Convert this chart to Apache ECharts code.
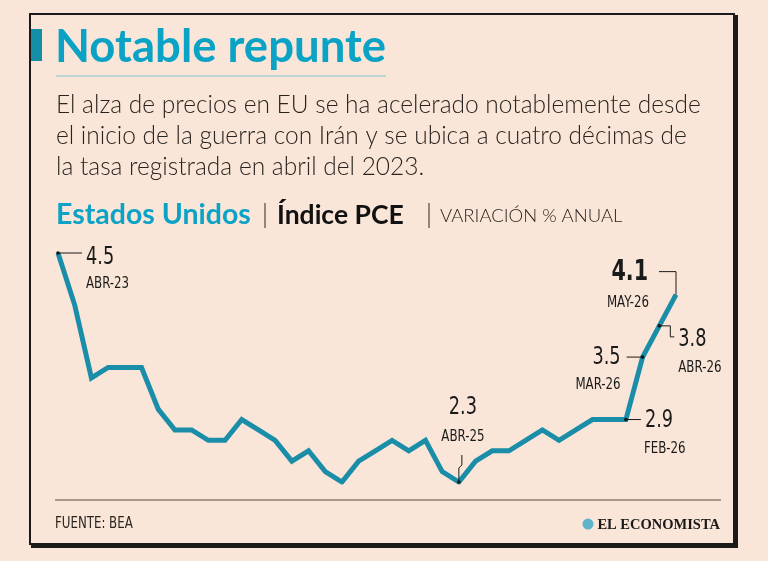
<!DOCTYPE html>
<html>
<head>
<meta charset="utf-8">
<script src="https://cdn.jsdelivr.net/npm/echarts@6/dist/echarts.min.js"></script>
<style>
  html, body { margin: 0; padding: 0; background: #fae6d8; }
  #chart { width: 768px; height: 561px; }
</style>
</head>
<body>
<div id="chart"></div>
<script>
// datos: PCE, variación % anual, abr-23 a may-26
const months = [
  "ABR-23","MAY-23","JUN-23","JUL-23","AGO-23","SEP-23","OCT-23","NOV-23","DIC-23",
  "ENE-24","FEB-24","MAR-24","ABR-24","MAY-24","JUN-24","JUL-24","AGO-24","SEP-24","OCT-24","NOV-24","DIC-24",
  "ENE-25","FEB-25","MAR-25","ABR-25","MAY-25","JUN-25","JUL-25","AGO-25","SEP-25","OCT-25","NOV-25","DIC-25",
  "ENE-26","FEB-26","MAR-26","ABR-26","MAY-26"
];
const pce = [
  4.5, 4.0, 3.3, 3.4, 3.4, 3.4, 3.0, 2.8, 2.8,
  2.7, 2.7, 2.9, 2.8, 2.7, 2.5, 2.6, 2.4, 2.3, 2.5, 2.6, 2.7,
  2.6, 2.7, 2.4, 2.3, 2.5, 2.6, 2.6, 2.7, 2.8, 2.7, 2.8, 2.9,
  2.9, 2.9, 3.5, 3.8, 4.1
];
// puntos con etiqueta
const callouts = ["ABR-23", "ABR-25", "FEB-26", "MAR-26", "ABR-26", "MAY-26"];

const teal = "#0aa3c6";
const lineColor = "#1a8ea9";
const narrow = "'DejaVu Sans Condensed', 'Liberation Sans Narrow', sans-serif";
const body = "Lato, 'Open Sans', sans-serif";
const squeeze = 0.82;

const chart = echarts.init(document.getElementById("chart"), null, { renderer: "canvas" });

chart.setOption({
  backgroundColor: "#fae6d8",
  animation: false,
  grid: { left: 58, right: 92, top: 253, bottom: 79 },
  xAxis: {
    type: "category",
    data: months,
    boundaryGap: false,
    show: false
  },
  yAxis: {
    type: "value",
    min: 2.3,
    max: 4.5,
    show: false
  },
  series: [{
    type: "line",
    data: pce,
    symbol: "none",
    lineStyle: { color: lineColor, width: 5, join: "miter" },
    z: 2
  }]
});

// marco, títulos y pie
const frame = [
  { type: "rect", shape: { x: 31, y: 15, width: 707, height: 533 }, style: { fill: "#1a1a1a" }, z: 0 },
  { type: "rect", shape: { x: 29, y: 13, width: 706, height: 532 }, style: { fill: "#1a1a1a" }, z: 0 },
  { type: "rect", shape: { x: 31, y: 15, width: 702, height: 528 }, style: { fill: "#fae6d8" }, z: 0 },
  { type: "rect", shape: { x: 31, y: 29, width: 11, height: 32 }, style: { fill: "#138fa6" }, z: 1 },
  { type: "text", x: 55, y: 47, style: { text: "Notable repunte", font: "bold 45.5px " + body, fill: teal, textVerticalAlign: "middle" }, z: 1 },
  { type: "line", shape: { x1: 56, y1: 76, x2: 386, y2: 76 }, style: { stroke: "#7cc3d2", lineWidth: 1 }, z: 1 },
  { type: "text", x: 56, y: 105, style: { text: "El alza de precios en EU se ha acelerado notablemente desde", font: "300 24.5px " + body, fill: "#2a2420", textVerticalAlign: "middle" }, z: 1 },
  { type: "text", x: 56, y: 136, style: { text: "el inicio de la guerra con Irán y se ubica a cuatro décimas de", font: "300 24.5px " + body, fill: "#2a2420", textVerticalAlign: "middle" }, z: 1 },
  { type: "text", x: 56, y: 167, style: { text: "la tasa registrada en abril del 2023.", font: "300 24.5px " + body, fill: "#2a2420", textVerticalAlign: "middle" }, z: 1 },
  { type: "text", x: 56, y: 215, style: { text: "Estados Unidos", font: "bold 28.5px " + body, fill: teal, textVerticalAlign: "middle" }, z: 1 },
  { type: "line", shape: { x1: 265, y1: 203, x2: 265, y2: 228 }, style: { stroke: "#2a2420", lineWidth: 1 }, z: 1 },
  { type: "text", x: 277, y: 215, style: { text: "Índice PCE", font: "bold 26.5px " + body, fill: "#111", textVerticalAlign: "middle" }, z: 1 },
  { type: "line", shape: { x1: 429, y1: 203, x2: 429, y2: 228 }, style: { stroke: "#2a2420", lineWidth: 1 }, z: 1 },
  { type: "text", x: 440, y: 216, style: { text: "VARIACIÓN % ANUAL", font: "300 18.5px " + body, fill: "#2a2420", textVerticalAlign: "middle" }, z: 1 },
  { type: "line", shape: { x1: 55, y1: 500, x2: 721, y2: 500 }, style: { stroke: "#5a4a40", lineWidth: 1 }, z: 1 },
  { type: "text", x: 55, y: 524, scaleX: squeeze, style: { text: "FUENTE: BEA", font: "16px " + narrow, fill: "#2a2420", textVerticalAlign: "middle" }, z: 1 },
  { type: "circle", shape: { cx: 588, cy: 524, r: 5.5 }, style: { fill: "#5fb4cc" }, z: 1 },
  { type: "text", x: 720, y: 525, style: { text: "EL ECONOMISTA", font: "bold 14.5px 'Liberation Serif', 'DejaVu Serif', serif", fill: "#1a1a1a", textAlign: "right", textVerticalAlign: "middle" }, z: 1 }
];

// etiquetas con líneas guía, a partir de la posición de cada punto
function px(label) {
  const i = months.indexOf(label);
  return chart.convertToPixel({ seriesIndex: 0 }, [i, pce[i]]);
}
function val(label) {
  return pce[months.indexOf(label)].toFixed(1);
}
const guide = { stroke: "#1a1a1a", lineWidth: 1, fill: null };
const numFont = "24px " + narrow;
const dateFont = "16px " + narrow;
const notes = [];
function dot(p) {
  notes.push({ type: "circle", shape: { cx: p[0], cy: p[1], r: 1.8 }, style: { fill: "#111" }, z: 5 });
}
function txt(x, y, text, font, align) {
  notes.push({ type: "text", x: x, y: y, scaleX: squeeze, style: { text: text, font: font, fill: "#1a1a1a", textAlign: align || "left", textVerticalAlign: "middle" }, z: 5 });
}
function poly(points) {
  notes.push({ type: "polyline", shape: { points: points }, style: guide, z: 5 });
}

let p = px(callouts[0]);
dot(p);
poly([p, [p[0] + 24, p[1]]]);
txt(p[0] + 28, p[1] + 5, val(callouts[0]), numFont);
txt(p[0] + 28, p[1] + 31, callouts[0], dateFont);

p = px(callouts[1]);
dot(p);
poly([p, [p[0], p[1] - 14], [p[0] + 3, p[1] - 17], [p[0] + 3, p[1] - 27]]);
txt(p[0] + 4, p[1] - 74, val(callouts[1]), numFont, "center");
txt(p[0] + 4, p[1] - 45, callouts[1], dateFont, "center");

p = px(callouts[2]);
dot(p);
poly([p, [p[0] + 15, p[1]]]);
txt(p[0] + 19, p[1] + 1, val(callouts[2]), numFont);
txt(p[0] + 18, p[1] + 29, callouts[2], dateFont);

p = px(callouts[3]);
dot(p);
poly([p, [p[0] - 16, p[1]]]);
txt(p[0] - 22, p[1] + 1, val(callouts[3]), numFont, "right");
txt(p[0] - 22, p[1] + 28, callouts[3], dateFont, "right");

p = px(callouts[4]);
dot(p);
poly([p, [p[0] + 11, p[1]], [p[0] + 11, p[1] + 11], [p[0] + 15, p[1] + 11]]);
txt(p[0] + 19, p[1] + 14, val(callouts[4]), numFont);
txt(p[0] + 19, p[1] + 42, callouts[4], dateFont);

p = px(callouts[5]);
poly([p, [p[0], p[1] - 23], [p[0] - 17, p[1] - 23]]);
txt(p[0] - 28, p[1] - 22, val(callouts[5]), "bold 28px " + narrow, "right");
txt(p[0] - 48, p[1] + 8, callouts[5], dateFont, "center");

chart.setOption({ graphic: { elements: frame.concat(notes) } });
</script>
</body>
</html>
